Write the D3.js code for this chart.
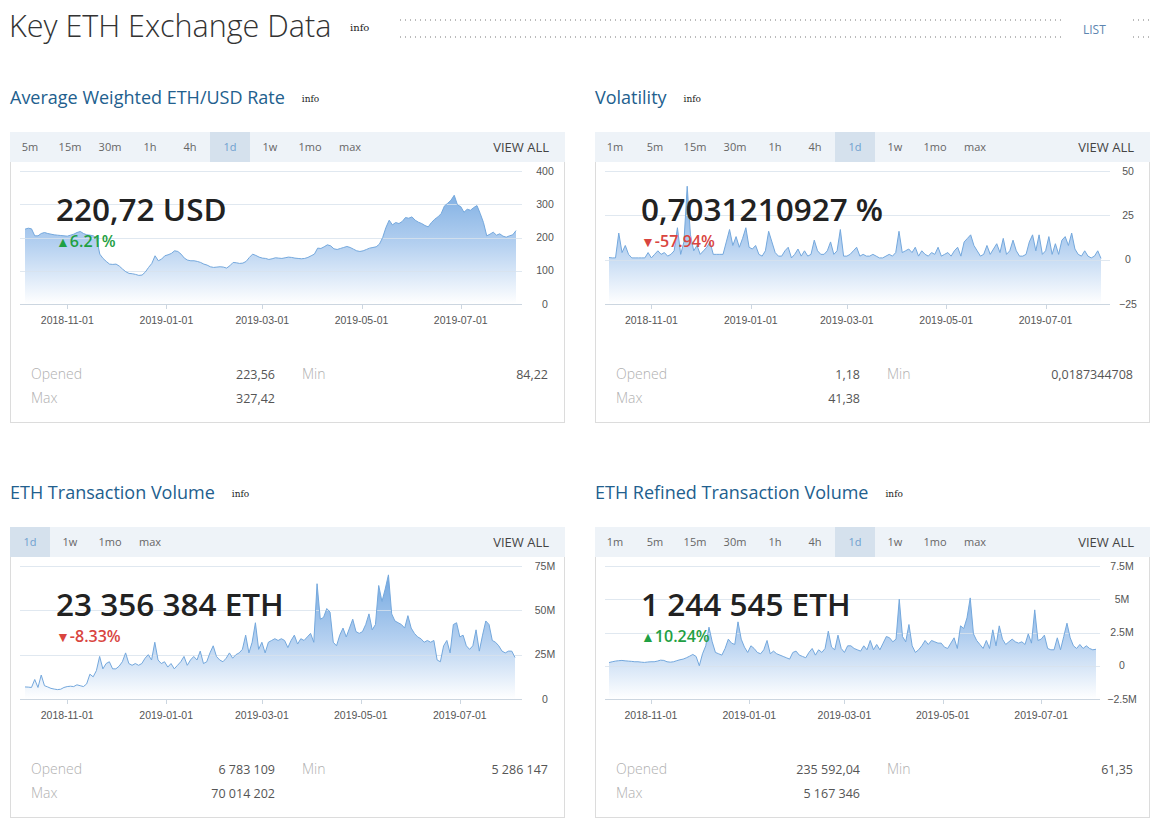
<!DOCTYPE html>
<html lang="en">
<head>
	<meta charset="UTF-8">
	<title>Key ETH Exchange Data</title>
	<script src="https://d3js.org/d3.v7.min.js"></script>
	<style>
		body, html {
			margin: 0;
			padding: 0;
			background: #fff;
			overflow: hidden;
		}
		svg {
			display: block;
			font-family: "Open Sans", "Noto Sans", sans-serif;
		}
		.tab { font-size: 11px; fill: #666; text-anchor: middle; }
		.tab.sel { fill: #6f9fcf; }
		.axis-label { font-family: "Liberation Sans", Arial, sans-serif; font-size: 10.5px; fill: #555; }
		.stat-name { font-size: 14px; fill: #b0b0b0; font-weight: 300; }
		.stat-val { font-size: 12.5px; fill: #555; text-anchor: end; }
	</style>
</head>
<body>
<div id="chart"></div>
<script>
// shared x range: one point every 2 days from this date
const startDate = "2018-10-06";
const xTickDates = ["2018-11-01", "2019-01-01", "2019-03-01", "2019-05-01", "2019-07-01"];

// Average Weighted ETH/USD Rate
const usdRate = [225,228,226,205,205,212,215,212,210,208,207,206,205,204,207,210,215,218,212,208,
	207,205,198,150,137,128,120,119,120,114,105,97,92,91,89,86,87,96,110,122,
	145,130,135,145,148,152,160,158,150,138,132,130,130,128,125,120,117,112,110,111,
	112,111,108,115,125,124,122,123,128,140,150,146,141,138,137,134,136,139,138,137,
	139,141,140,138,137,136,137,140,145,150,168,167,172,178,175,166,164,167,170,173,
	170,165,160,158,160,164,168,170,172,180,200,230,252,238,245,242,248,260,258,262,
	252,246,242,236,232,245,255,262,272,295,303,312,327,298,293,276,285,282,290,296,
	272,245,205,210,216,207,211,204,201,205,208,220.7];

// Volatility, %
const volatility = [1.18,1,1,15,4,8,3,1,1,1,1,1,4,1,3,5,3,4,2,3,
	5,18,3,10,41.4,14,5,8,3,5,7,10,3,3,3,3,10,17,8,13,
	7,12,18,7,6,8,3,2,5,16,10,4,2,2,5,7,1,3,6,2,
	5,2,3,11,5,3,3,5,10,3,5,17,2,2,3,5,7,2,3,2,
	2,3,2,1,1,2,3,2,4,16,4,5,6,4,7,2,5,3,2,4,
	3,7,2,3,4,2,5,7,2,10,12,14,8,5,2,3,8,3,6,9,
	4,12,3,5,11,5,2,2,3,10,14,5,14,3,5,13,3,9,3,11,
	13,8,15,6,3,2,5,2,1,2,5,0.7];

// ETH Transaction Volume, millions
const txVolume = [6.8,6.7,6.5,11,6.5,13.5,7.5,6.8,6,5.6,5.3,5.5,6.5,7,7.2,7,8,7.5,7,8.5,
	14,12.5,16,24,17,20,21,17,17,18.5,21,26,20,19,20,19,20,23,25,22,
	32,22,20,21,18,20,17,19,21,24,19,22,24,22,27,20,21,26,30,24,
	22,21,23,26,23,25,26,28,36,26,32,43,28,32,26,32,33,34,33,34,
	33,29,33,36,31,34,33,35,37,32,65,45,46,51,49,32,30,36,40,35,
	40,45,38,37,38,42,48,39,42,64,55,62,70,48,44,43,42,40,47,40,
	37,35,34,32,33,32,33,22,21,30,33,26,42,43,35,36,30,28,30,39,
	27,36,44,42,33,32,30,27,26,27,27,23.4];

// ETH Refined Transaction Volume, millions
const refinedVolume = [0.24,0.3,0.35,0.38,0.4,0.37,0.35,0.33,0.3,0.3,0.27,0.25,0.28,0.3,0.3,0.35,0.42,0.4,0.3,0.27,
	0.3,0.38,0.45,0.5,0.6,0.72,0.85,0.7,0.00006,0.9,1.5,2.9,1.8,1,0.9,0.8,1.3,2,1.7,1.6,
	3.3,2,1.4,1,1.5,1.3,1,0.9,1.2,1.9,0.9,1.1,0.9,0.8,0.7,0.6,0.5,1,1.1,0.8,
	0.7,0.6,1,1.3,0.8,1.2,1,1.3,2.6,1.4,1.2,2.3,1.3,1,1.5,1.5,1.3,1.2,1.1,1.5,
	1.2,1.9,1.2,1.6,1.2,1.7,2.2,2.1,1.8,2,5,2.2,1.8,3.1,1.5,1,1.2,1.5,1.9,1.6,
	1.9,1.8,1.7,1.7,1.4,1.3,1.7,2.1,1.3,3,2.8,3.6,5.1,2.4,1.9,1.6,1.3,1.9,1.3,2.7,
	1.5,3,2,1.6,1.8,2,1.8,1.7,1.8,1.6,2.4,1.7,4.2,1.9,2,2.3,1.3,1.2,1.2,2.1,
	1.2,2.2,3.2,2.1,1.5,1.3,1.6,1.3,1.5,1.3,1.2,1.24];

const panelTitles = ["Average Weighted ETH/USD Rate", "Volatility", "ETH Transaction Volume", "ETH Refined Transaction Volume"];
const bigValues = ["220,72 USD", "0,7031210927 %", "23 356 384 ETH", "1 244 545 ETH"];
const changes = [6.21, -57.94, -8.33, 10.24];
const openedVals = ["223,56", "1,18", "6 783 109", "235 592,04"];
const maxVals = ["327,42", "41,38", "70 014 202", "5 167 346"];
const minVals = ["84,22", "0,0187344708", "5 286 147", "61,35"];

const tabsLong = ["5m", "15m", "30m", "1h", "4h", "1d", "1w", "1mo", "max"];
const tabsVol = ["1m", "5m", "15m", "30m", "1h", "4h", "1d", "1w", "1mo", "max"];
const tabsShort = ["1d", "1w", "1mo", "max"];

const yTicksUsd = [0, 100, 200, 300, 400];
const yTicksVol = [-25, 0, 25, 50];
const yTicksTx = [0, 25, 50, 75];
const yTicksRef = [-2.5, 0, 2.5, 5, 7.5];

const width = 1163, height = 829;
const parse = d3.timeParse("%Y-%m-%d");
const start = parse(startDate);
const dates = usdRate.map((v, i) => d3.timeDay.offset(start, 2 * i));

const svg = d3.select("#chart").append("svg")
	.attr("width", width)
	.attr("height", height);
const defs = svg.append("defs");

// page header
svg.append("text").attr("x", 9).attr("y", 37)
	.style("font-size", "30.5px").style("font-weight", 300).style("fill", "#333")
	.text("Key ETH Exchange Data");
svg.append("text").attr("x", 350).attr("y", 31)
	.style("font-family", "'DejaVu Serif', serif").style("font-size", "10px").style("fill", "#222")
	.text("info");
[20, 37].forEach(y => {
	svg.append("line").attr("x1", 400).attr("x2", 1064).attr("y1", y).attr("y2", y)
		.attr("stroke", "#777").attr("stroke-dasharray", "1,4");
	svg.append("line").attr("x1", 1133).attr("x2", 1152).attr("y1", y).attr("y2", y)
		.attr("stroke", "#777").attr("stroke-dasharray", "1,4");
});
svg.append("text").attr("x", 1083).attr("y", 34)
	.style("font-size", "12px").style("fill", "#5d85b0").text("LIST");

function drawPanel(p) {
	const g = svg.append("g");
	const x0 = p.x0, y0 = p.y0;

	// title
	const title = g.append("text").attr("x", x0).attr("y", y0 + 104)
		.style("font-size", "18px").style("fill", "#22608e").text(p.title);
	const tw = title.node().getComputedTextLength();
	g.append("text").attr("x", x0 + tw + 17).attr("y", y0 + 102)
		.style("font-family", "'DejaVu Serif', serif").style("font-size", "9px").style("fill", "#222")
		.text("info");

	// box + tab bar
	g.append("rect").attr("x", x0 + 0.5).attr("y", y0 + 132.5).attr("width", 554).attr("height", 290)
		.attr("fill", "#fff").attr("stroke", "#dcdcdc");
	g.append("rect").attr("x", x0).attr("y", y0 + 132).attr("width", 555).attr("height", 30)
		.attr("fill", "#eef3f8");
	const selIdx = p.tabs.indexOf("1d");
	g.append("rect").attr("x", x0 + selIdx * 40).attr("y", y0 + 132).attr("width", 40).attr("height", 30)
		.attr("fill", "#d5e1ed");
	g.selectAll(".tab").data(p.tabs).enter().append("text")
		.attr("class", d => d === "1d" ? "tab sel" : "tab")
		.attr("x", (d, i) => x0 + 20 + i * 40)
		.attr("y", y0 + 151)
		.text(d => d);
	g.append("text").attr("x", x0 + 539).attr("y", y0 + 152)
		.attr("text-anchor", "end").style("font-size", "13px").style("fill", "#444").text("VIEW ALL");

	// scales
	const x = d3.scaleTime().domain([dates[0], dates[dates.length - 1]]).range([p.dataL, p.dataR]);
	const y = d3.scaleLinear().domain(d3.extent(p.yTicks)).range([y0 + 304, y0 + 171]);
	const pts = p.values.map((v, i) => ({ d: dates[i], v: v }));

	const gid = "grad" + p.id;
	const grad = defs.append("linearGradient").attr("id", gid)
		.attr("gradientUnits", "userSpaceOnUse")
		.attr("x1", 0).attr("x2", 0).attr("y1", y0 + 171).attr("y2", y0 + 304);
	grad.append("stop").attr("offset", 0).attr("stop-color", "#6aa2de");
	grad.append("stop").attr("offset", 0.55).attr("stop-color", "#b4d0f0");
	grad.append("stop").attr("offset", 1).attr("stop-color", "#ffffff");

	const area = d3.area().x(d => x(d.d)).y0(y0 + 304).y1(d => y(d.v));
	const line = d3.line().x(d => x(d.d)).y(d => y(d.v));
	g.append("path").datum(pts).attr("d", area).attr("fill", "url(#" + gid + ")");

	// grid lines
	g.selectAll(".grid").data(p.yTicks).enter().append("line")
		.attr("x1", p.gridL).attr("x2", p.gridR)
		.attr("y1", d => Math.round(y(d)) + 0.5).attr("y2", d => Math.round(y(d)) + 0.5)
		.attr("stroke", d => d === p.yTicks[0] ? "#ccd6e0" : "#d8e2ec")
		.attr("stroke-opacity", d => d === p.yTicks[0] ? 1 : 0.8);

	g.append("path").datum(pts).attr("d", line)
		.attr("fill", "none").attr("stroke", "#74a8dd").attr("stroke-width", 1);

	// y labels
	g.selectAll(".ylab").data(p.yTicks).enter().append("text")
		.attr("class", "axis-label")
		.attr("x", p.labelX).attr("y", d => y(d) + 3.5)
		.attr("text-anchor", "middle")
		.text(p.yFmt);

	// x axis ticks + labels
	const xt = xTickDates.map(parse);
	g.selectAll(".xt").data(xt).enter().append("line")
		.attr("x1", d => Math.round(x(d)) + 0.5).attr("x2", d => Math.round(x(d)) + 0.5)
		.attr("y1", y0 + 304).attr("y2", y0 + 309).attr("stroke", "#ccd6e0");
	g.selectAll(".xl").data(xt).enter().append("text")
		.attr("class", "axis-label")
		.attr("x", d => x(d)).attr("y", y0 + 324)
		.attr("text-anchor", "middle")
		.text(d3.timeFormat("%Y-%m-%d"));

	// headline value
	g.append("text").attr("x", x0 + 46).attr("y", y0 + 221)
		.style("font-size", "31.5px").style("font-weight", 600).style("fill", "#222")
		.text(p.big);
	const up = p.change >= 0;
	const ch = g.append("text").attr("x", x0 + 46).attr("y", y0 + 247)
		.style("font-size", "16px").style("font-weight", 600)
		.style("fill", up ? "#1fa043" : "#d9453f");
	ch.append("tspan").style("font-size", "14px").text(up ? "▲" : "▼");
	ch.append("tspan").text(p.change.toFixed(2) + "%");

	// stats
	g.append("text").attr("class", "stat-name").attr("x", x0 + 21).attr("y", y0 + 379).text("Opened");
	g.append("text").attr("class", "stat-name").attr("x", x0 + 21).attr("y", y0 + 403).text("Max");
	g.append("text").attr("class", "stat-name").attr("x", x0 + 292).attr("y", y0 + 379).text("Min");
	g.append("text").attr("class", "stat-val").attr("x", x0 + 265).attr("y", y0 + 379).text(p.opened);
	g.append("text").attr("class", "stat-val").attr("x", x0 + 265).attr("y", y0 + 403).text(p.max);
	g.append("text").attr("class", "stat-val").attr("x", x0 + 538).attr("y", y0 + 379).text(p.min);
}

const fmtNum = d => String(d);
const fmtM = d => d === 0 ? "0" : d + "M";

drawPanel({ id: 0, x0: 10, y0: 0, title: panelTitles[0], tabs: tabsLong, values: usdRate,
	yTicks: yTicksUsd, yFmt: fmtNum, dataL: 25, dataR: 516, gridL: 20, gridR: 522, labelX: 545,
	big: bigValues[0], change: changes[0], opened: openedVals[0], max: maxVals[0], min: minVals[0] });
drawPanel({ id: 1, x0: 595, y0: 0, title: panelTitles[1], tabs: tabsVol, values: volatility,
	yTicks: yTicksVol, yFmt: d => d < 0 ? "\u2212" + Math.abs(d) : String(d), dataL: 609, dataR: 1101, gridL: 605, gridR: 1110, labelX: 1128,
	big: bigValues[1], change: changes[1], opened: openedVals[1], max: maxVals[1], min: minVals[1] });
drawPanel({ id: 2, x0: 10, y0: 395, title: panelTitles[2], tabs: tabsShort, values: txVolume,
	yTicks: yTicksTx, yFmt: fmtM, dataL: 25, dataR: 515, gridL: 20, gridR: 522, labelX: 545,
	big: bigValues[2], change: changes[2], opened: openedVals[2], max: maxVals[2], min: minVals[2] });
drawPanel({ id: 3, x0: 595, y0: 395, title: panelTitles[3], tabs: tabsVol, values: refinedVolume,
	yTicks: yTicksRef, yFmt: d => d === 0 ? "0" : (d < 0 ? "\u2212" + Math.abs(d) : d) + "M", dataL: 609, dataR: 1096, gridL: 605, gridR: 1100, labelX: 1122,
	big: bigValues[3], change: changes[3], opened: openedVals[3], max: maxVals[3], min: minVals[3] });
</script>
</body>
</html>
